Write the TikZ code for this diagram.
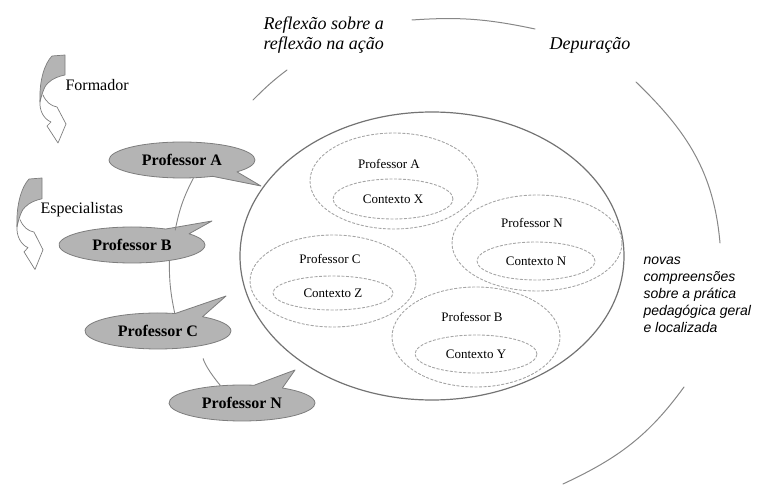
\documentclass[tikz,border=0pt]{standalone}
\usepackage{fontspec}
\setmainfont{LiberationSerif}[Extension=.ttf,UprightFont=*-Regular,BoldFont=*-Bold,
  ItalicFont=*-Italic,BoldItalicFont=*-BoldItalic]
\newfontfamily\arialfont{LiberationSans}[Extension=.ttf,UprightFont=*-Regular,
  ItalicFont=*-Italic]
\usetikzlibrary{shapes.geometric,shapes.callouts}
\definecolor{cinzabalao}{RGB}{180,180,180}
\definecolor{bordabalao}{RGB}{125,125,125}
\definecolor{linhacinza}{RGB}{135,135,135}
\definecolor{tracejado}{RGB}{165,165,165}
\tikzset{
  balao/.style={ellipse callout,fill=cinzabalao,draw=bordabalao,line width=0.8pt,
    minimum width=146pt,minimum height=36pt,inner sep=0pt,callout pointer arc=24,
    font=\fontsize{16}{18}\selectfont\bfseries},
  liga/.style={draw=linhacinza,line width=0.9pt},
  espiral/.style={draw=linhacinza,line width=1pt},
  grupo/.style={ellipse,draw=tracejado,dash pattern=on 2.5pt off 2pt,line width=0.9pt,inner sep=0pt},
  contexto/.style={grupo,font=\fontsize{13}{15}\selectfont},
  rotulo/.style={font=\fontsize{13}{15}\selectfont},
  seta/.pic={
    \filldraw[fill=cinzabalao,draw=bordabalao,line width=0.7pt] (0,0) -- (-13,-1)
      .. controls (-20,-8) and (-26,-25) .. (-25,-47)
      .. controls (-23,-38) and (-20,-30) .. (-17,-28)
      .. controls (-12,-23) and (-5,-21) .. (0,-20) -- cycle;
    \draw[draw=bordabalao,line width=0.7pt] (-25,-45)
      .. controls (-26,-56) and (-21,-64) .. (-14,-67) -- (-18,-71) -- (-7,-88)
      -- (1,-69) -- (-8,-52) .. controls (-14,-51) and (-19,-47) .. (-22,-40);
  }
}
\begin{document}
\begin{tikzpicture}[x=1pt,y=1pt,line cap=round,line join=round]
\useasboundingbox (0,0) rectangle (758,485);
% espiral de fora
\draw[espiral] (253,385) to[out=45,in=217] (287,415);
\draw[espiral] (412,465) to[out=4,in=168] (535,456);
\draw[espiral] (636,403) to[out=-44,in=95] (720,242);
\draw[espiral] (684,98) to[out=-126,in=25] (563,1);
% circulo grande
\node[ellipse,draw=linhacinza!85!black,line width=1.2pt,minimum width=384pt,minimum height=288pt] (roda) at (432,229) {};
% grupos de dentro
\node[grupo,minimum width=168pt,minimum height=96pt] (gA) at (394,304) {};
\node[contexto,minimum width=120pt,minimum height=40pt] (cX) at (393,286) {Contexto X};
\node[rotulo] (rA) at (389,321) {Professor A};
\node[grupo,minimum width=166pt,minimum height=92pt] (gC) at (333,204) {};
\node[contexto,minimum width=120pt,minimum height=34pt] (cZ) at (333,192) {Contexto Z};
\node[rotulo] (rC) at (330,226) {Professor C};
\node[grupo,minimum width=170pt,minimum height=96pt] (gN) at (537,242) {};
\node[contexto,minimum width=118pt,minimum height=38pt] (cN) at (536,224) {Contexto N};
\node[rotulo] (rN) at (532,262) {Professor N};
\node[grupo,minimum width=168pt,minimum height=100pt] (gB) at (476,148) {};
\node[contexto,minimum width=122pt,minimum height=38pt] (cY) at (476,131) {Contexto Y};
\node[rotulo] (rB) at (472,168) {Professor B};
% baloes
\node[balao,callout absolute pointer={(261,299)}] (pa) at (182,325) {Professor A};
\node[balao,callout absolute pointer={(212,264)}] (pb) at (132,240) {Professor B};
\node[balao,callout absolute pointer={(226,189)}] (pc) at (158,154) {Professor C};
\node[balao,callout absolute pointer={(295,115)}] (pn) at (242,82) {Professor N};
\draw[liga] (pa.-58) to[bend right=8] (pb.19);
\draw[liga] (pb.-23) to[bend right=6] (pc.47);
\draw[liga,shorten <=13pt] (pc.-20) to[bend right=12] (pn.141);
% setas
\pic at (65,430) {seta};
\pic[yscale=1.04] at (42,307) {seta};
\node[anchor=west,font=\fontsize{16}{18}\selectfont] (form) at (62,400) {Formador};
\node[anchor=west,font=\fontsize{16}{18}\selectfont] (esp) at (37,275) {Especialistas};
% textos
\node[anchor=west,align=left,font=\fontsize{18}{20}\selectfont\itshape] (refl) at (260,450) {Reflexão sobre a\\reflexão na ação};
\node[font=\fontsize{18}{20}\selectfont\itshape] (dep) at (590,440) {Depuração};
\node[anchor=west,align=left,font=\arialfont\itshape\fontsize{14}{17}\selectfont] (novas) at (640,190) {novas\\compreensões\\sobre a prática\\pedagógica geral\\e localizada};
\end{tikzpicture}
\end{document}
